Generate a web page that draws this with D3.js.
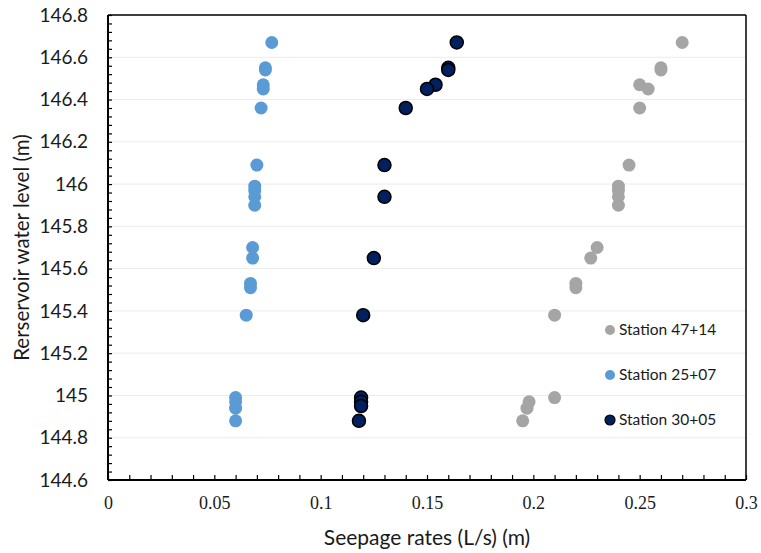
<!DOCTYPE html>
<html>
<head>
<meta charset="utf-8">
<script src="https://cdn.jsdelivr.net/npm/d3@7"></script>
<style>
  body { margin: 0; background: #fff; }
  svg { display: block; }
</style>
</head>
<body>
<div id="chart"></div>
<script>
// reservoir level (m) per reading
const levelsGray = [146.67, 146.55, 146.54, 146.47, 146.45, 146.36, 146.09, 145.99, 145.97, 145.94, 145.9, 145.7, 145.65, 145.53, 145.51, 145.38, 144.99, 144.97, 144.94, 144.88];
const station4714 = [0.27, 0.26, 0.26, 0.25, 0.254, 0.25, 0.245, 0.24, 0.24, 0.24, 0.24, 0.23, 0.227, 0.22, 0.22, 0.21, 0.21, 0.198, 0.197, 0.195];

const levelsBlue = [146.67, 146.55, 146.54, 146.47, 146.45, 146.36, 146.09, 145.99, 145.97, 145.94, 145.9, 145.7, 145.65, 145.53, 145.51, 145.38, 144.99, 144.97, 144.94, 144.88];
const station2507 = [0.077, 0.074, 0.074, 0.073, 0.073, 0.072, 0.07, 0.069, 0.069, 0.069, 0.069, 0.068, 0.068, 0.067, 0.067, 0.065, 0.06, 0.06, 0.06, 0.06];

const levelsNavy = [146.67, 146.55, 146.54, 146.47, 146.45, 146.36, 146.09, 145.94, 145.65, 145.38, 144.99, 144.97, 144.95, 144.88];
const station3005 = [0.164, 0.16, 0.16, 0.154, 0.15, 0.14, 0.13, 0.13, 0.125, 0.12, 0.119, 0.119, 0.119, 0.118];

const xTicks = [0, 0.05, 0.1, 0.15, 0.2, 0.25, 0.3];
const yTicks = [144.6, 144.8, 145, 145.2, 145.4, 145.6, 145.8, 146, 146.2, 146.4, 146.6, 146.8];

const series = [
    { name: 'Station 47+14', x: station4714, y: levelsGray, fill: '#a5a5a5', stroke: 'none' },
    { name: 'Station 25+07', x: station2507, y: levelsBlue, fill: '#5b9bd5', stroke: 'none' },
    { name: 'Station 30+05', x: station3005, y: levelsNavy, fill: '#002060', stroke: '#000' }
];

const W = 761, H = 553;
const margin = { top: 15, right: 15, bottom: 73, left: 108 };
const w = W - margin.left - margin.right;
const h = H - margin.top - margin.bottom;
const sans = 'Lato, Open Sans, sans-serif';

const svg = d3.select('#chart').append('svg')
    .attr('width', W)
    .attr('height', H);

const g = svg.append('g')
    .attr('transform', `translate(${margin.left}, ${margin.top})`);

const xScale = d3.scaleLinear().domain([0, 0.3]).range([0, w]);
const yScale = d3.scaleLinear().domain([144.6, 146.8]).range([h, 0]);

// gridlines
g.append('g')
    .selectAll('line')
    .data(yTicks.slice(1, -1))
    .join('line')
    .attr('x1', 0)
    .attr('x2', w)
    .attr('y1', d => yScale(d))
    .attr('y2', d => yScale(d))
    .attr('stroke', '#ececec')
    .attr('stroke-width', 1);

// minor ticks (inside)
const yMinor = d3.range(0, 56).map(i => 144.6 + i * 0.04);
g.append('g')
    .call(d3.axisLeft(yScale).tickValues(yMinor).tickSize(-4).tickFormat(''))
    .call(s => s.select('.domain').remove())
    .selectAll('line').attr('stroke', '#000').attr('stroke-width', 1.2);

const xMinor = d3.range(0, 31).map(i => i * 0.01);
g.append('g')
    .attr('transform', `translate(0, ${h})`)
    .call(d3.axisBottom(xScale).tickValues(xMinor).tickSize(-5).tickFormat(''))
    .call(s => s.select('.domain').remove())
    .selectAll('line').attr('stroke', '#000').attr('stroke-width', 1.2);

// tick labels
const yAxis = g.append('g')
    .call(d3.axisLeft(yScale).tickValues(yTicks).tickSize(0).tickPadding(20)
        .tickFormat(d => String(+d.toFixed(1))));
yAxis.select('.domain').remove();
yAxis.selectAll('text')
    .attr('font-family', sans)
    .attr('font-size', 19)
    .attr('fill', '#1a1a1a');

const xAxis = g.append('g')
    .attr('transform', `translate(0, ${h})`)
    .call(d3.axisBottom(xScale).tickValues(xTicks).tickSize(0).tickPadding(16)
        .tickFormat(d => String(d)));
xAxis.select('.domain').remove();
xAxis.selectAll('text')
    .attr('font-family', 'Liberation Serif, serif')
    .attr('font-size', 18)
    .attr('fill', '#1a1a1a');

// frame
g.append('line').attr('x1', 0).attr('x2', w).attr('y1', 0).attr('y2', 0)
    .attr('stroke', '#000').attr('stroke-width', 1.5);
g.append('line').attr('x1', w).attr('x2', w).attr('y1', 0).attr('y2', h)
    .attr('stroke', '#000').attr('stroke-width', 1.5);
g.append('line').attr('x1', 0).attr('x2', 0).attr('y1', 0).attr('y2', h)
    .attr('stroke', '#000').attr('stroke-width', 2);
g.append('line').attr('x1', 0).attr('x2', w).attr('y1', h).attr('y2', h)
    .attr('stroke', '#000').attr('stroke-width', 2);

// points
series.forEach((s) => {
    g.append('g')
        .selectAll('circle')
        .data(s.x.map((v, i) => [v, s.y[i]]))
        .join('circle')
        .attr('cx', d => xScale(d[0]))
        .attr('cy', d => yScale(d[1]))
        .attr('r', 6.5)
        .attr('fill', s.fill)
        .attr('stroke', s.stroke)
        .attr('stroke-width', 1.5);
});

// legend
const legend = g.append('g')
    .attr('transform', `translate(${610 - margin.left}, ${330 - margin.top})`);
series.forEach((s, i) => {
    const row = legend.append('g').attr('transform', `translate(0, ${i * 45})`);
    row.append('circle')
        .attr('r', 5)
        .attr('fill', s.fill)
        .attr('stroke', s.stroke)
        .attr('stroke-width', 1.2);
    row.append('text')
        .attr('x', 9)
        .attr('dy', '0.35em')
        .attr('font-family', sans)
        .attr('font-size', 15.5)
        .attr('fill', '#1a1a1a')
        .text(s.name);
});

// axis titles
svg.append('text')
    .attr('x', margin.left + w / 2)
    .attr('y', 545)
    .attr('text-anchor', 'middle')
    .attr('font-family', sans)
    .attr('font-size', 21)
    .attr('fill', '#1a1a1a')
    .text('Seepage rates (L/s) (m)');

svg.append('text')
    .attr('transform', `translate(29, ${margin.top + h / 2}) rotate(-90)`)
    .attr('text-anchor', 'middle')
    .attr('font-family', sans)
    .attr('font-size', 20.5)
    .attr('fill', '#1a1a1a')
    .text('Rerservoir water level (m)');
</script>
</body>
</html>
